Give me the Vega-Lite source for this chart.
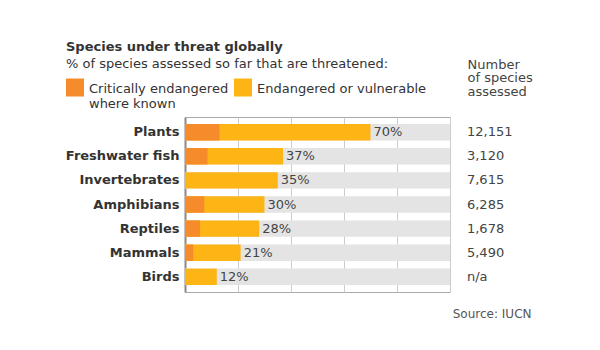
{
  "$schema": "https://vega.github.io/schema/vega-lite/v6.json",
  "width": 265,
  "height": 175,
  "autosize": "none",
  "padding": {"left": 185, "top": 117, "right": 150, "bottom": 58},
  "background": "white",
  "config": {
    "font": "DejaVu Sans",
    "view": {"stroke": "#aaaaaa", "strokeWidth": 1}
  },
  "title": {
    "text": "Species under threat globally",
    "subtitle": "% of species assessed so far that are threatened:",
    "anchor": "start",
    "frame": "group",
    "dx": -119,
    "offset": -13,
    "fontSize": 13,
    "fontWeight": "bold",
    "color": "#333333",
    "subtitleFontSize": 13,
    "subtitleColor": "#333333",
    "subtitlePadding": 4
  },
  "data": {
    "values": [
      {"group": "Plants", "total": 70, "critical": 13, "pct": "70%", "assessed": "12,151"},
      {"group": "Freshwater fish", "total": 37, "critical": 8.5, "pct": "37%", "assessed": "3,120"},
      {"group": "Invertebrates", "total": 35, "critical": 0, "pct": "35%", "assessed": "7,615"},
      {"group": "Amphibians", "total": 30, "critical": 7.3, "pct": "30%", "assessed": "6,285"},
      {"group": "Reptiles", "total": 28, "critical": 5.7, "pct": "28%", "assessed": "1,678"},
      {"group": "Mammals", "total": 21, "critical": 3.1, "pct": "21%", "assessed": "5,490"},
      {"group": "Birds", "total": 12, "critical": 0, "pct": "12%", "assessed": "n/a"}
    ]
  },
  "encoding": {
    "y": {
      "field": "group",
      "type": "nominal",
      "sort": null,
      "scale": {"paddingInner": 0.32, "paddingOuter": 0.29},
      "axis": {
        "title": ["Number", "of species", "assessed"],
        "titleAngle": 0,
        "titleAlign": "left",
        "titleBaseline": "alphabetic",
        "titleX": 282,
        "titleY": -49,
        "titleFontSize": 13,
        "titleFontWeight": "normal",
        "titleColor": "#444444",
        "titleLineHeight": 13.5,
        "labelFontSize": 13,
        "labelFontWeight": "bold",
        "labelColor": "#333333",
        "labelPadding": 6,
        "ticks": false,
        "domainColor": "#888888",
        "domainWidth": 2
      }
    }
  },
  "layer": [
    {
      "mark": {"type": "bar", "color": "#e4e4e4"},
      "encoding": {
        "x": {
          "datum": 100,
          "type": "quantitative",
          "scale": {"domain": [0, 100], "nice": false},
          "axis": {
            "values": [0, 10, 20, 30, 40, 50, 60, 70, 80, 90, 100],
            "labels": false,
            "ticks": false,
            "domain": false,
            "grid": true,
            "gridColor": "#cccccc",
            "gridWidth": 1,
            "title": "Source: IUCN",
            "titleX": 346,
            "titleY": 25,
            "titleAlign": "right",
            "titleAnchor": null,
            "titleBaseline": "alphabetic",
            "titleFontSize": 12,
            "titleFontWeight": "normal",
            "titleColor": "#555555"
          }
        }
      }
    },
    {
      "mark": {"type": "bar"},
      "encoding": {
        "x": {"field": "total", "type": "quantitative"},
        "color": {
          "datum": "Endangered or vulnerable",
          "scale": {
            "domain": ["Critically endangered", "Endangered or vulnerable"],
            "range": ["#f68b2c", "#fdb515"]
          },
          "legend": {
            "orient": "none",
            "legendX": -119,
            "legendY": -33,
            "direction": "horizontal",
            "title": null,
            "symbolType": "M-1,-1.61L1,-1.61L1,0.39L-1,0.39Z",
            "symbolSize": 324,
            "symbolStrokeWidth": 0,
            "symbolOpacity": 1,
            "labelFontSize": 13,
            "labelColor": "#333333",
            "labelOffset": 5,
            "labelLimit": 300,
            "labelBaseline": "alphabetic",
            "columnPadding": 5,
            "labelExpr": "datum.label == 'Critically endangered' ? ['Critically endangered', 'where known'] : [datum.label, ' ']"
          }
        }
      }
    },
    {
      "mark": {"type": "bar"},
      "encoding": {
        "x": {"field": "critical", "type": "quantitative"},
        "color": {"datum": "Critically endangered"}
      }
    },
    {
      "mark": {"type": "text", "align": "left", "dx": 3, "fontSize": 13, "color": "#444444"},
      "encoding": {
        "x": {"field": "total", "type": "quantitative"},
        "text": {"field": "pct"}
      }
    },
    {
      "mark": {"type": "text", "align": "left", "fontSize": 13, "color": "#444444"},
      "encoding": {
        "x": {"datum": 106.4, "type": "quantitative"},
        "text": {"field": "assessed"}
      }
    }
  ]
}
